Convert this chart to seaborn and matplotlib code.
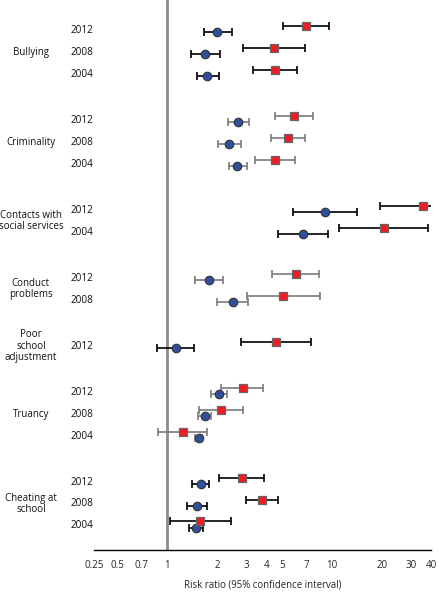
import numpy as np
import pandas as pd
import seaborn as sns
import matplotlib.pyplot as plt

# Outcomes and survey years (top to bottom)
groups = ["Bullying", "Criminality", "Contacts with\nsocial services",
          "Conduct\nproblems", "Poor\nschool\nadjustment", "Truancy",
          "Cheating at\nschool"]
years = [["2012", "2008", "2004"], ["2012", "2008", "2004"], ["2012", "2004"],
         ["2012", "2008"], ["2012"], ["2012", "2008", "2004"],
         ["2012", "2008", "2004"]]

# blue circles
circ_rr = [2.00, 1.70, 1.75, 2.68, 2.37, 2.66, 9.0, 6.64, 1.80, 2.50, 1.13,
           2.05, 1.70, 1.55, 1.59, 1.52, 1.50]
circ_lo = [1.67, 1.40, 1.51, 2.32, 2.03, 2.35, 5.75, 4.68, 1.47, 2.01, 0.87,
           1.85, 1.53, 1.48, 1.41, 1.31, 1.35]
circ_hi = [2.45, 2.09, 2.05, 3.12, 2.78, 3.03, 14.1, 9.41, 2.17, 3.08, 1.46,
           2.29, 1.85, 1.62, 1.80, 1.75, 1.64]

# red squares
sq_rr = [6.92, 4.43, 4.49, 5.85, 5.38, 4.49, 35.4, 20.5, 6.02, 5.05, 4.58,
         2.87, 2.11, 1.24, 2.83, 3.74, 1.57]
sq_lo = [5.02, 2.89, 3.32, 4.49, 4.23, 3.41, 19.4, 10.96, 4.29, 3.04, 2.78,
         2.12, 1.55, 0.873, 2.05, 2.98, 1.04]
sq_hi = [9.59, 6.82, 6.16, 7.63, 6.82, 5.99, 42.5, 38.3, 8.38, 8.46, 7.46,
         3.83, 2.87, 1.73, 3.85, 4.68, 2.42]

tick_vals = [0.36, 0.5, 0.6, 0.7, 0.8, 0.9, 1, 2, 3, 4, 5, 6, 7, 8, 9, 10, 20, 30, 40]
tick_labels = ["0.25", "0.5", "", "0.7", "", "", "1", "2", "3", "4", "5", "",
               "7", "", "", "10", "20", "30", "40"]

# row layout: 1 unit between years, 2.1 units between outcomes
rows = []
pos = 0.0
for gi, (g, ys) in enumerate(zip(groups, years)):
    if gi > 0:
        pos += 2.1
    for k, y in enumerate(ys):
        if k > 0:
            pos += 1.0
        rows.append((g, y, pos))
df = pd.DataFrame(rows, columns=["group", "year", "pos"])
df["c_rr"], df["c_lo"], df["c_hi"] = circ_rr, circ_lo, circ_hi
df["s_rr"], df["s_lo"], df["s_hi"] = sq_rr, sq_lo, sq_hi

bar_col = {"Criminality": "#7a7a7a", "Conduct\nproblems": "#7a7a7a", "Truancy": "#7a7a7a"}

sns.set_theme(style="white")
plt.rcParams["font.family"] = ["Open Sans", "DejaVu Sans"]

fig = plt.figure(figsize=(4.4, 5.94), dpi=100)
ax = fig.add_axes([0.2143, 0.0741, 0.766, 0.926])

ax.axvline(1, color="#8c8c8c", lw=2, zorder=1)

for _, r in df.iterrows():
    col = bar_col.get(r["group"], "black")
    ax.errorbar(r["c_rr"], r["pos"] + 0.08,
                xerr=[[r["c_rr"] - r["c_lo"]], [r["c_hi"] - r["c_rr"]]],
                fmt="none", ecolor=col, elinewidth=1.2, capsize=3, capthick=1.2, zorder=2)
    ax.errorbar(r["s_rr"], r["pos"] - 0.2,
                xerr=[[r["s_rr"] - r["s_lo"]], [r["s_hi"] - r["s_rr"]]],
                fmt="none", ecolor=col, elinewidth=1.2, capsize=3, capthick=1.2, zorder=2)

sns.scatterplot(x=df["c_rr"], y=df["pos"] + 0.08, ax=ax, marker="o", s=38,
                color="#30509c", edgecolor="#333333", linewidth=0.8, zorder=3)
sns.scatterplot(x=df["s_rr"], y=df["pos"] - 0.2, ax=ax, marker="s", s=30,
                color="#f01c24", edgecolor="#666666", linewidth=0.9, zorder=3)

ax.set_xscale("log")
ax.set_xlim(0.36, 40)
ax.set_ylim(df["pos"].max() + 1.1, -1.4)
ax.set_xticks(tick_vals)
ax.set_xticklabels(tick_labels, fontsize=7)
ax.minorticks_off()
ax.tick_params(axis="x", direction="out", length=5, width=1, color="black", pad=2)
ax.set_yticks([])
ax.set_xlabel("Risk ratio (95% confidence interval)", fontsize=6.9, labelpad=6)
ax.set_ylabel("")
for s in ["top", "right", "left"]:
    ax.spines[s].set_visible(False)
ax.spines["bottom"].set_color("black")
ax.spines["bottom"].set_linewidth(1)

tr = ax.get_yaxis_transform()
for _, r in df.iterrows():
    ax.text(-0.0374, r["pos"], r["year"], transform=tr, ha="center", va="center",
            fontsize=7.2, color="#111111", clip_on=False)
for g in groups:
    mid = df.loc[df["group"] == g, "pos"].mean()
    ax.text(-0.188, mid, g, transform=tr, ha="center", va="center",
            fontsize=7, linespacing=1.05, color="#111111", clip_on=False)

ax.set_facecolor("white")
fig.savefig("out.png", dpi=100, facecolor="white")
